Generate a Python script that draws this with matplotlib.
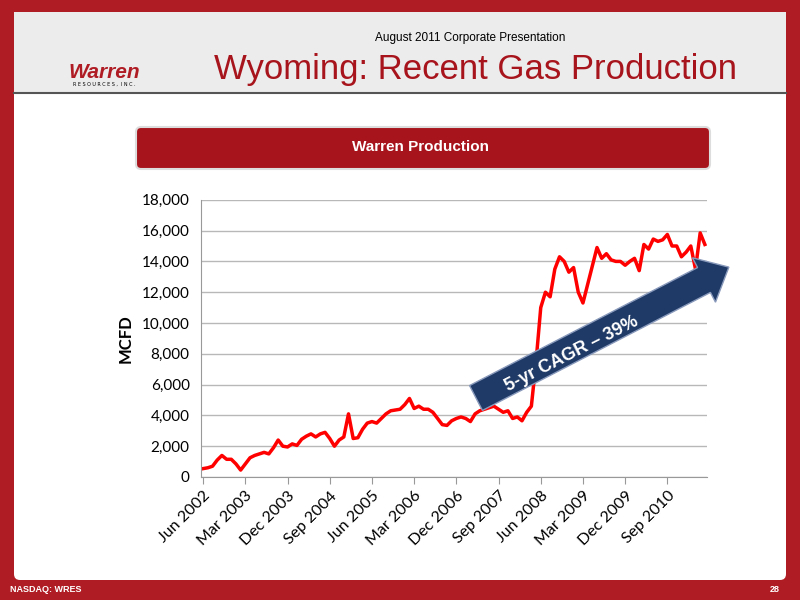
import numpy as np
import matplotlib.pyplot as plt
from matplotlib.patches import FancyBboxPatch, FancyArrow, Rectangle

# monthly production, Jun 2002 .. May 2011 (MCFD)
production = [
    545, 600, 700, 1100, 1400, 1150, 1150, 850, 450, 850,
    1250, 1400, 1500, 1600, 1500, 1900, 2400, 2000, 1950, 2150,
    2050, 2450, 2650, 2800, 2600, 2800, 2900, 2500, 2000, 2400,
    2600, 4100, 2500, 2550, 3100, 3500, 3600, 3500, 3800, 4100,
    4300, 4350, 4400, 4700, 5100, 4450, 4600, 4400, 4400, 4200,
    3800, 3400, 3350, 3650, 3800, 3900, 3800, 3600, 4100, 4300,
    4400, 4500, 4600, 4400, 4200, 4300, 3800, 3900, 3650, 4200,
    4600, 7500, 11000, 12000, 11700, 13500, 14300, 14000, 13300, 13600,
    12000, 11300, 12500, 13700, 14900, 14200, 14500, 14100, 14000, 14000,
    13750, 14000, 14200, 13400, 15100, 14800, 15450, 15300, 15400, 15750,
    15000, 15000, 14300, 14600, 15000, 13500, 15850, 15100,
]
tick_labels = ["Jun 2002", "Mar 2003", "Dec 2003", "Sep 2004", "Jun 2005",
               "Mar 2006", "Dec 2006", "Sep 2007", "Jun 2008", "Mar 2009",
               "Dec 2009", "Sep 2010"]

fig = plt.figure(figsize=(8, 6), dpi=100)
fig.patch.set_facecolor("#b01c24")

bg = fig.add_axes([0, 0, 1, 1], zorder=0)
bg.set_xlim(0, 800)
bg.set_ylim(600, 0)
bg.axis("off")
bg.add_patch(FancyBboxPatch((14, 12), 772, 568, boxstyle="round,pad=0,rounding_size=6",
                            fc="white", ec="none"))
bg.add_patch(Rectangle((14, 12), 772, 80, fc="#ececec", ec="none"))
bg.plot([14, 786], [93, 93], color="#555555", lw=1.5)
bg.add_patch(FancyBboxPatch((136, 127), 574, 42, boxstyle="round,pad=0,rounding_size=5",
                            fc="#a8141c", ec="#dddddd", lw=1.5))
bg.text(420, 147, "Warren Production", ha="center", va="center", color="white",
        fontsize=11, fontweight="bold", family="Liberation Sans")
bg.text(470, 38, "August 2011 Corporate Presentation", ha="center", va="center",
        fontsize=8.5, family="Liberation Sans")
bg.text(475, 70, "Wyoming: Recent Gas Production", ha="center", va="center",
        fontsize=25, color="#a8141c", family="Liberation Sans")
bg.text(104, 72, "Warren", ha="center", va="center", fontsize=15, color="#b01c24",
        fontweight="bold", style="italic", family="Liberation Sans")
bg.text(104, 84, "R E S O U R C E S ,  I N C .", ha="center", va="center", fontsize=3.5)
bg.text(10, 590, "NASDAQ: WRES", ha="left", va="center", fontsize=6.5, color="white",
        family="Liberation Sans", fontweight="bold")
bg.text(780, 590, "28", ha="right", va="center", fontsize=6.5, color="white",
        family="Liberation Sans", fontweight="bold")

ax = fig.add_axes([0.251, 0.205, 0.633, 0.462], zorder=1)
ax.patch.set_alpha(0)
x = np.arange(len(production))
ax.plot(x, production, color="#ff0000", lw=2.5)
ax.set_xlim(-0.5, len(production) - 0.5)
ax.set_ylim(0, 18000)
ax.set_yticks(np.arange(0, 18001, 2000))
ax.set_yticklabels([f"{v:,}" for v in range(0, 18001, 2000)], fontsize=11, family="Lato")
ax.yaxis.grid(True, color="#b8b8b8", lw=1)
ax.set_axisbelow(True)
ax.set_xticks(np.arange(0, 100, 9))
ax.set_xticklabels(tick_labels, rotation=45, ha="right", rotation_mode="anchor",
                   fontsize=11.5, family="Lato")
ax.tick_params(axis="y", length=0, pad=8)
ax.tick_params(axis="x", length=5, color="#999999")
for s in ["top", "right"]:
    ax.spines[s].set_visible(False)
ax.spines["left"].set_color("#999999")
ax.spines["bottom"].set_color("#999999")
ax.set_ylabel("MCFD", fontsize=12, fontweight="bold", family="Lato", labelpad=6)

ov = fig.add_axes([0, 0, 1, 1], zorder=2)
ov.patch.set_alpha(0)
ov.set_xlim(0, 800)
ov.set_ylim(600, 0)
ov.axis("off")
ov.add_patch(FancyArrow(476, 398, 228, -118, width=28, head_width=50, head_length=28,
                        length_includes_head=False, fc="#1f3a66", ec="#8899bb", lw=1))
ov.text(572, 354, "5-yr CAGR \u2013 39%", rotation=27, ha="center", va="center",
        color="white", fontsize=13, fontweight="bold", family="Liberation Sans",
        rotation_mode="anchor")

fig.savefig("out.png", dpi=100, facecolor=fig.get_facecolor())
